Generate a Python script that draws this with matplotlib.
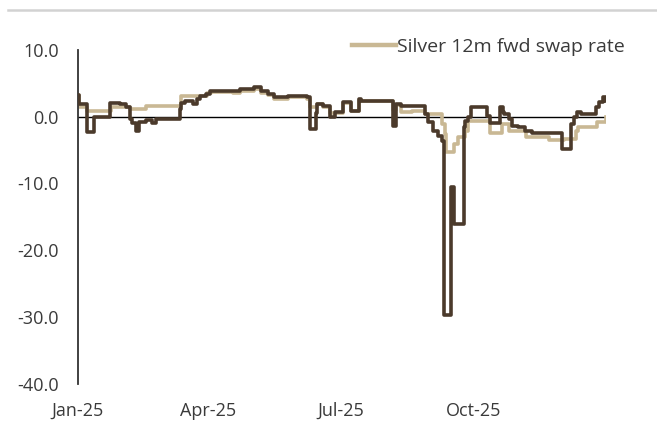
import matplotlib
matplotlib.use("Agg")
import matplotlib.pyplot as plt
from matplotlib.lines import Line2D
import pandas as pd

plt.rcParams['font.family'] = ['Open Sans', 'DejaVu Sans']
plt.rcParams['axes.unicode_minus'] = False

start = pd.Timestamp('2025-01-01')

# Dark series (unlabelled in legend) : day offset from 1 Jan 2025, value
dark_days = [0, 1, 6, 11, 22, 29, 33, 36, 37, 40, 42, 47, 51, 54, 70, 71, 74, 79, 82, 84,
             88, 91, 107, 112, 121, 126, 131, 135, 145, 158, 160, 164, 165, 169, 174, 177,
             183, 188, 194, 195, 217, 219, 223, 239, 241, 245, 248, 251, 252, 257, 259,
             266, 267, 269, 271, 282, 284, 291, 293, 294, 297, 299, 303, 308, 313, 334,
             340, 342, 344, 347, 357, 359, 362, 364]
dark_vals = [3.2, 1.9, -2.3, 0.0, 2.1, 1.9, 1.4, -0.3, -1.0, -2.2, -0.8, -0.5, -0.9, -0.3,
             1.2, 2.1, 2.4, 1.9, 2.6, 3.1, 3.4, 3.9, 3.8, 4.1, 4.4, 3.8, 3.4, 2.9, 3.1, 2.9,
             -1.85, 0.5, 1.9, 1.65, -0.1, 0.65, 2.15, 0.9, 2.65, 2.4, -1.35, 1.9, 1.65,
             0.4, -0.85, -2.1, -2.85, -3.6, -29.8, -10.6, -16.1, -1.6, -0.6, -0.1, 1.5,
             0.15, -1.0, 1.4, 0.65, 0.4, -0.35, -1.35, -1.6, -2.1, -2.5, -4.85, -1.1,
             -0.1, 0.65, 0.4, 1.4, 2.15, 2.9, 2.4]

# Silver 12m fwd swap rate
tan_days = [0, 1, 6, 23, 36, 47, 71, 89, 92, 107, 112, 121, 126, 131, 135, 145, 158, 160,
            165, 169, 174, 177, 183, 188, 194, 195, 217, 219, 223, 230, 239, 251, 253, 254,
            259, 262, 267, 269, 284, 292, 297, 309, 325, 335, 343, 345, 358, 364]
tan_vals = [3.2, 1.4, 0.9, 1.4, 1.2, 1.65, 3.15, 3.6, 3.7, 3.6, 3.9, 4.2, 3.6, 3.2, 2.7,
            2.9, 2.7, 1.5, 1.9, 1.5, 0.5, 0.5, 2.0, 0.9, 2.5, 2.3, 1.0, 1.7, 0.65, 0.9, 0.4,
            -1.1, -2.6, -5.35, -4.1, -3.1, -2.1, -0.6, -2.4, -1.1, -2.1, -3.1, -3.5, -3.35,
            -2.1, -1.6, -0.85, -0.1]

y_ticks = [10, 0, -10, -20, -30, -40]
x_tick_labels = ['Jan-25', 'Apr-25', 'Jul-25', 'Oct-25']
x_tick_dates = ['2025-01-01', '2025-04-01', '2025-07-01', '2025-10-01']

dark_dates = start + pd.to_timedelta(dark_days, unit='D')
tan_dates = start + pd.to_timedelta(tan_days, unit='D')

DARK = '#4b3a2b'
TAN = '#c9b894'
TXT = '#3a3a3a'

fig = plt.figure(figsize=(6.57, 4.48), dpi=100)
fig.patch.set_facecolor('white')
ax = fig.add_axes([78/657, 1 - 383.5/448, (606-78)/657, (383.5-50)/448])
ax.set_facecolor('white')

ax.axhline(0, color='black', lw=1.0, zorder=1)
ax.plot(tan_dates, tan_vals, drawstyle='steps-post', color=TAN, lw=2.6,
        solid_joinstyle='round', label='Silver 12m fwd swap rate', zorder=2)
ax.plot(dark_dates, dark_vals, drawstyle='steps-post', color=DARK, lw=2.6,
        solid_joinstyle='round', zorder=3)

ax.set_ylim(-40, 10)
ax.set_xlim(start, start + pd.Timedelta(days=364))
ax.set_yticks(y_ticks)
ax.set_yticklabels([f'{v:.1f}' for v in y_ticks])
ax.set_xticks(pd.to_datetime(x_tick_dates))
ax.set_xticklabels(x_tick_labels)

for s in ['top', 'right', 'bottom']:
    ax.spines[s].set_visible(False)
ax.spines['left'].set_color('#333333')
ax.spines['left'].set_linewidth(1.3)
ax.tick_params(axis='both', length=0, labelsize=13, labelcolor=TXT)
ax.tick_params(axis='y', pad=14)
ax.tick_params(axis='x', pad=13)

leg = ax.legend(loc='upper right', bbox_to_anchor=(625/657, 1 - 38/448),
                bbox_transform=fig.transFigure, frameon=False, fontsize=14,
                handlelength=2.3, handletextpad=0.05, borderpad=0, borderaxespad=0)
for t in leg.get_texts():
    t.set_color(TXT)
for h in leg.legend_handles:
    h.set_linewidth(3.2)

fig.add_artist(Line2D([8/657, 1.0], [1 - 10/448, 1 - 10/448], transform=fig.transFigure,
                      color='#d2d2d2', lw=1.8))

fig.savefig('out.png', dpi=100, facecolor='white')
